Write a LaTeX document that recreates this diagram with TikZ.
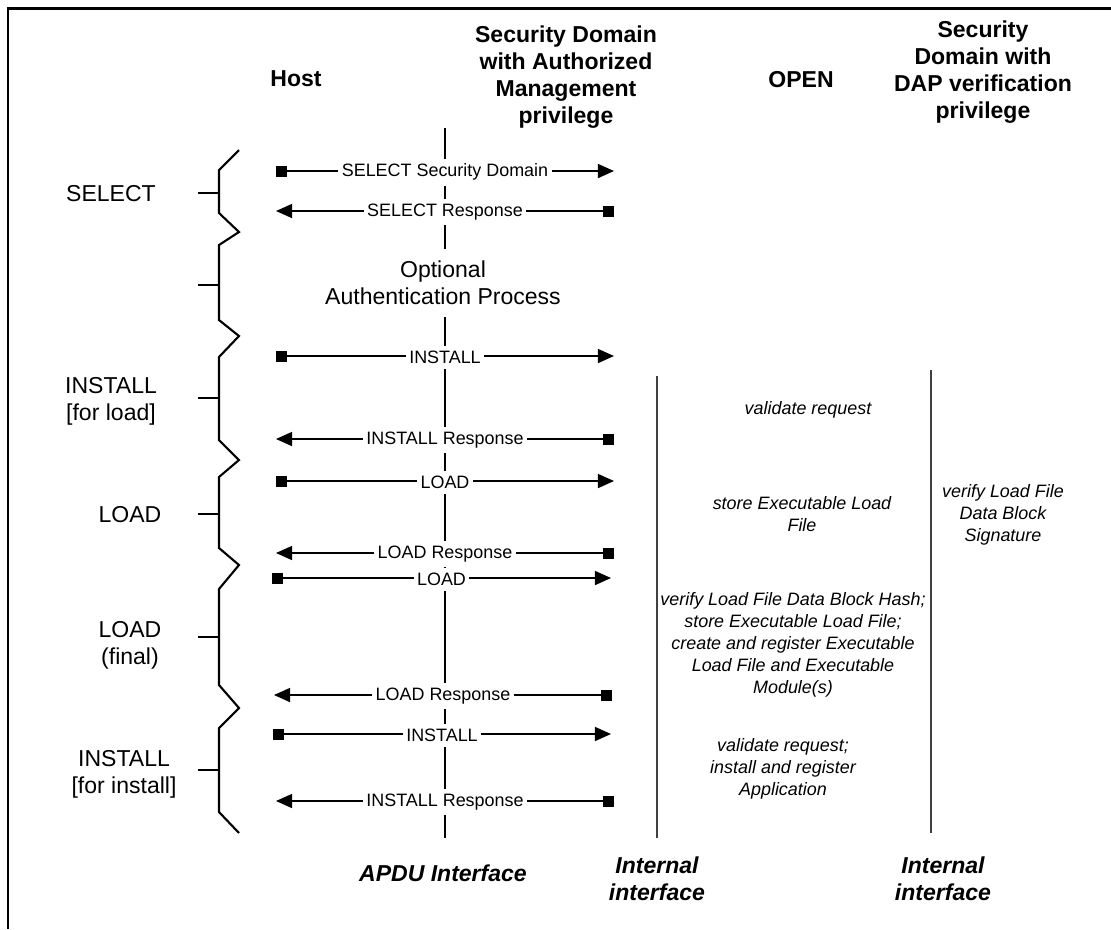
\documentclass[tikz,border=0pt]{standalone}
\usepackage{fontspec}
\setmainfont{Liberation Sans}
\usepackage{tikz}
\usetikzlibrary{arrows.meta,positioning}
\newcommand{\hdrfont}{\fontsize{6.55}{7.7}\selectfont}
\newcommand{\msgfont}{\fontsize{5.1}{6.26}\selectfont}
\tikzstyle{msg} = [line width=0.4pt]
\tikzstyle{tocard} = [msg,{Square[length=0.11cm,width=0.11cm]}-{Triangle[length=0.16cm,width=0.14cm]}]
\tikzstyle{tohost} = [msg,{Triangle[length=0.16cm,width=0.14cm]}-{Square[length=0.11cm,width=0.11cm]}]
\tikzstyle{msglabel} = [fill=white,inner xsep=1pt,inner ysep=1.4pt,yshift=-0.35pt,font=\msgfont]
\tikzstyle{hdr} = [align=center,font=\hdrfont\bfseries]
\tikzstyle{ifc} = [align=center,font=\hdrfont\bfseries\itshape]
\tikzstyle{phase} = [align=center,font=\hdrfont]
\tikzstyle{action} = [align=center,font=\msgfont\itshape]
\tikzstyle{lifeline} = [line width=0.6pt]
\tikzstyle{inner line} = [line width=0.45pt,black!75]

\begin{document}
\begin{tikzpicture}[x=0.01cm,y=-0.01cm]
	\useasboundingbox (0,0) rectangle (1111,929);
	% frame
	\draw[line width=0.85pt] (8,929) -- (8,8) -- (1111,8);
	
	% column heads
	\node[hdr] (host) at (296,79) {Host};
	\node[hdr] (sdam) at (566,77) {Security Domain\\with Authorized\\Management\\privilege};
	\node[hdr] (open) at (801,80) {OPEN};
	\node[hdr] (sddap) at (983,72) {Security\\Domain with\\DAP verification\\privilege};
	
	% lifelines
	\coordinate (apduTop) at (445,128);
	\coordinate (apduBot) at (445,838);
	\coordinate (intTop) at (657,376);
	\coordinate (intBot) at (657,838);
	\coordinate (dapTop) at (931,370);
	\coordinate (dapBot) at (931,833);
	\draw[lifeline] (apduTop) -- (apduBot);
	\draw[inner line] (intTop) -- (intBot);
	\draw[inner line] (dapTop) -- (dapBot);
	
	% phases on the left
	\draw[lifeline] (239,150) -- (219,170) -- (219,213) -- (239,232) -- (219,245)
		-- (219,320) -- (239,336) -- (219,357) -- (219,440) -- (239,460) -- (219,477)
		-- (219,548) -- (239,565) -- (219,589) -- (219,685) -- (239,708) -- (219,728)
		-- (219,812) -- (239,833);
	\draw[lifeline] (198,193) -- (219,193);
	\draw[lifeline] (198,285) -- (219,285);
	\draw[lifeline] (198,398) -- (219,398);
	\draw[lifeline] (198,514) -- (219,514);
	\draw[lifeline] (198,637) -- (219,637);
	\draw[lifeline] (198,770) -- (219,770);
	
	\node[phase] (pSel) at (111,194) {SELECT};
	\node[phase] (pInstLoad) at (111,401) {INSTALL\\{[for load]}};
	\node[phase] (pLoad) at (130,515) {LOAD};
	\node[phase] (pLoadFin) at (130,645) {LOAD\\(final)};
	\node[phase] (pInstInst) at (124,774) {INSTALL\\{[for install]}};
	
	\node[phase,fill=white,inner xsep=1pt,inner ysep=3.5pt] (auth) at (443,283) {Optional\\Authentication Process};
	
	% commands and responses
	\coordinate (h1) at (276,171);  \coordinate (c1) at (614,171);
	\coordinate (h2) at (276,211);  \coordinate (c2) at (614,211);
	\coordinate (h3) at (276,356);  \coordinate (c3) at (614,356);
	\coordinate (h4) at (276,439);  \coordinate (c4) at (614,439);
	\coordinate (h5) at (276,481);  \coordinate (c5) at (614,481);
	\coordinate (h6) at (276,553);  \coordinate (c6) at (614,553);
	\coordinate (h7) at (272,578);  \coordinate (c7) at (611,578);
	\coordinate (h8) at (274,695);  \coordinate (c8) at (612,695);
	\coordinate (h9) at (273,734);  \coordinate (c9) at (611,734);
	\coordinate (h10) at (276,801); \coordinate (c10) at (614,801);
	
	\draw[tocard] (h1) -- node[msglabel] (m1) {SELECT Security Domain} (c1);
	\draw[tohost] (h2) -- node[msglabel] (m2) {SELECT Response} (c2);
	\draw[tocard] (h3) -- node[msglabel] (m3) {INSTALL} (c3);
	\draw[tohost] (h4) -- node[msglabel] (m4) {INSTALL Response} (c4);
	\draw[tocard] (h5) -- node[msglabel] (m5) {LOAD} (c5);
	\draw[tohost] (h6) -- node[msglabel] (m6) {LOAD Response} (c6);
	\draw[tocard] (h7) -- node[msglabel] (m7) {LOAD} (c7);
	\draw[tohost] (h8) -- node[msglabel] (m8) {LOAD Response} (c8);
	\draw[tocard] (h9) -- node[msglabel] (m9) {INSTALL} (c9);
	\draw[tohost] (h10) -- node[msglabel] (m10) {INSTALL Response} (c10);
	
	% card side processing
	\node[action] (act1) at (808,410) {validate request};
	\node[action] (act2) at (802,514) {store Executable Load\\File};
	\node[action] (act3) at (793,645) {verify Load File Data Block Hash;\\store Executable Load File;\\create and register Executable\\Load File and Executable\\Module(s)};
	\node[action] (act4) at (783,769) {validate request;\\install and register\\Application};
	\node[action] (act5) at (1003,515) {verify Load File\\Data Block\\Signature};
	
	% interfaces
	\node[ifc] (apdu) at (443,873) {APDU Interface};
	\node[ifc] (int1) at (657,879) {Internal\\interface};
	\node[ifc] (int2) at (943,879) {Internal\\interface};
\end{tikzpicture}
\end{document}
